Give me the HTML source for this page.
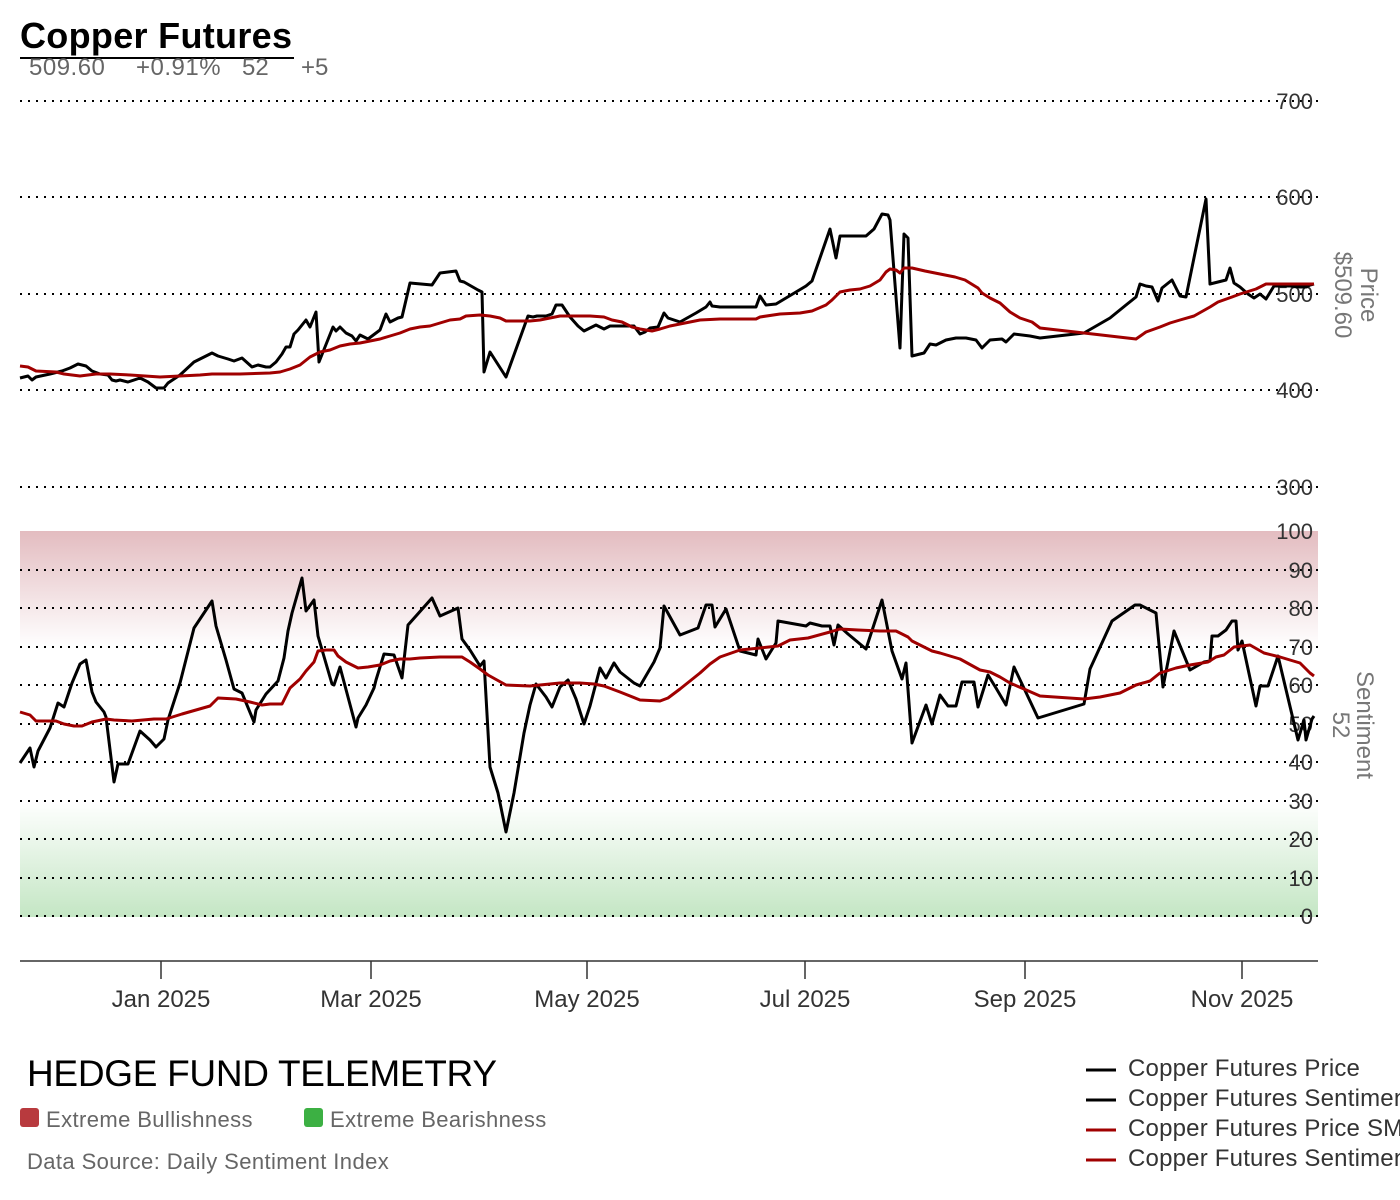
<!DOCTYPE html>
<html><head><meta charset="utf-8"><style>
html,body{margin:0;padding:0;background:#fff;width:1400px;height:1200px;overflow:hidden}
svg{display:block;font-family:"Liberation Sans",sans-serif}
</style></head><body>
<svg width="1400" height="1200" viewBox="0 0 1400 1200">
<defs>
<linearGradient id="rg" x1="0" y1="0" x2="0" y2="1"><stop offset="0" stop-color="#e3bcc0"/><stop offset="1" stop-color="#ffffff"/></linearGradient>
<linearGradient id="gg" x1="0" y1="0" x2="0" y2="1"><stop offset="0" stop-color="#ffffff"/><stop offset="1" stop-color="#c4e6c4"/></linearGradient>
</defs>
<text x="20" y="48" font-size="36" font-weight="bold" fill="#000" textLength="272">Copper Futures</text>
<line x1="20" y1="58" x2="294" y2="58" stroke="#000" stroke-width="2"/>
<text x="29" y="75" font-size="24" fill="#666" letter-spacing="0.5">509.60</text>
<text x="136" y="75" font-size="24" fill="#666" letter-spacing="0.5">+0.91%</text>
<text x="242" y="75" font-size="24" fill="#666">52</text>
<text x="301" y="75" font-size="24" fill="#666">+5</text>

<rect x="20" y="531" width="1298" height="116" fill="url(#rg)"/>
<rect x="20" y="801" width="1298" height="116" fill="url(#gg)"/>

<g stroke="#000" stroke-width="2" stroke-dasharray="2,6">
<line x1="20" y1="101" x2="1318" y2="101"/><line x1="20" y1="197" x2="1318" y2="197"/><line x1="20" y1="294" x2="1318" y2="294"/><line x1="20" y1="390" x2="1318" y2="390"/><line x1="20" y1="487" x2="1318" y2="487"/>
<line x1="20" y1="570" x2="1318" y2="570"/><line x1="20" y1="608" x2="1318" y2="608"/><line x1="20" y1="647" x2="1318" y2="647"/><line x1="20" y1="685" x2="1318" y2="685"/><line x1="20" y1="724" x2="1318" y2="724"/><line x1="20" y1="762" x2="1318" y2="762"/><line x1="20" y1="801" x2="1318" y2="801"/><line x1="20" y1="839" x2="1318" y2="839"/><line x1="20" y1="878" x2="1318" y2="878"/><line x1="20" y1="916" x2="1318" y2="916"/>
</g>
<g font-size="22" fill="#333" text-anchor="end">
<text x="1313" y="109">700</text><text x="1313" y="205">600</text><text x="1313" y="302">500</text><text x="1313" y="398">400</text><text x="1313" y="495">300</text>
<text x="1313" y="539">100</text><text x="1313" y="578">90</text><text x="1313" y="616">80</text><text x="1313" y="655">70</text><text x="1313" y="693">60</text><text x="1313" y="732">50</text><text x="1313" y="770">40</text><text x="1313" y="809">30</text><text x="1313" y="847">20</text><text x="1313" y="886">10</text><text x="1313" y="924">0</text>
</g>
<g font-size="24" fill="#777" text-anchor="middle">
<text transform="translate(1361,295) rotate(90)">Price</text>
<text transform="translate(1335,295) rotate(90)">$509.60</text>
<text transform="translate(1357,725) rotate(90)">Sentiment</text>
<text transform="translate(1333,725) rotate(90)">52</text>
</g>

<g fill="none" stroke-width="3" stroke-linejoin="round">
<polyline stroke="#000" points="20,378 28,376 32,380 36,377 50,374 62,371 70,368 78,364 86,366 92,371 100,374 108,375 112,380 116,381 120,380 128,382 140,378 148,382 156,388 164,388 168,383 180,375 194,362 212,353 218,356 228,359 234,361 242,358 252,367 258,365 266,367 270,367 276,362 282,354 286,347 290,347 294,334 298,330 306,320 310,327 316,312 319,362 333,327 336,331 340,327 346,333 352,336 356,341 360,335 368,339 376,333 380,330 386,314 390,322 398,318 402,317 410,283 432,285 440,273 456,271 460,281 464,282 478,290 482,292 484,372 490,352 506,377 528,316 533,317 537,316 546,316 552,314 556,305 562,305 570,317 578,326 584,331 596,325 604,329 610,326 620,326 634,326 640,334 645,332 650,328 658,327 664,313 668,318 680,322 696,313 706,307 710,302 712,306 720,307 740,307 756,307 760,296 766,305 776,304 786,298 796,292 806,286 812,281 830,229 836,258 840,236 850,236 866,236 874,229 882,214 888,215 890,220 900,348 904,234 908,238 912,356 924,353 930,344 936,345 946,340 956,338 966,338 976,340 982,348 990,340 1002,339 1006,342 1014,334 1030,336 1040,338 1084,333 1110,318 1126,305 1136,297 1140,284 1146,286 1152,287 1158,301 1162,288 1172,280 1180,296 1186,297 1206,199 1210,284 1226,280 1230,268 1234,283 1240,287 1248,294 1254,298 1260,294 1266,299 1274,286 1290,286 1300,287 1306,287 1310,285 1314,284"/>
<polyline stroke="#a00000" points="20,366 28,367 36,371 56,372 64,374 80,376 96,374 110,374 130,375 160,377 180,376 200,375 212,374 240,374 270,373 280,372 290,369 300,365 310,357 320,352 330,350 340,346 350,344 360,343 370,341 380,339 390,336 400,333 410,329 420,327 430,326 440,323 450,320 460,319 466,316 480,315 490,316 500,318 506,321 530,321 540,320 560,316 590,316 604,317 612,320 622,322 632,327 640,329 652,331 660,329 670,326 690,322 700,320 720,319 756,319 760,317 780,314 800,313 812,311 826,305 832,300 840,292 850,290 860,289 870,286 880,280 886,272 890,269 896,270 900,273 904,268 912,268 925,271 940,274 955,277 965,280 978,288 982,293 990,298 1000,303 1010,312 1020,318 1032,322 1040,328 1084,333 1136,339 1146,332 1160,327 1170,323 1180,320 1194,316 1210,307 1218,302 1232,297 1240,294 1256,289 1266,284 1290,284 1314,284"/>
<polyline stroke="#000" points="20,763 30,748 34,767 38,751 50,728 58,703 64,707 72,683 80,664 86,660 92,692 96,702 104,712 106,717 114,782 118,764 128,764 140,731 150,740 156,747 164,739 168,720 180,683 194,628 212,601 216,626 226,660 234,689 242,693 254,722 256,710 266,694 278,681 284,658 288,631 292,613 302,578 306,611 314,600 318,636 332,684 334,685 340,667 356,727 358,718 366,705 374,688 376,680 384,654 394,655 402,678 408,625 432,598 440,616 458,608 462,639 470,650 480,666 484,661 490,767 498,793 506,832 514,793 524,733 530,705 536,684 546,697 552,707 560,687 568,680 576,699 584,724 590,706 600,668 606,678 614,663 620,672 634,683 640,686 654,662 660,648 664,606 680,635 698,628 706,605 712,605 715,627 726,609 740,651 756,655 758,639 766,659 776,643 778,621 806,626 810,623 822,626 830,626 834,645 838,625 848,634 866,649 882,600 892,651 902,679 906,663 912,743 926,705 932,724 940,695 948,706 956,706 962,682 974,682 978,707 988,675 996,688 1006,705 1014,667 1038,718 1084,704 1090,669 1112,621 1135,605 1140,605 1156,613 1163,687 1174,631 1190,670 1204,662 1210,661 1212,636 1218,636 1226,630 1232,621 1236,621 1238,650 1242,641 1256,706 1260,686 1268,686 1278,656 1298,740 1304,720 1306,740 1312,719 1314,716"/>
<polyline stroke="#a00000" points="20,712 30,715 36,721 56,721 64,724 74,726 82,726 92,722 106,719 114,720 132,721 154,719 166,719 182,714 196,710 210,706 218,698 236,699 250,702 262,705 270,704 282,704 290,688 300,679 306,671 314,662 318,651 326,650 334,650 338,656 346,662 358,668 368,667 380,665 390,661 400,659 410,659 420,658 440,657 462,657 470,662 480,669 488,675 506,685 530,686 540,685 560,683 580,683 594,684 604,686 620,692 640,700 660,701 668,698 680,689 700,673 710,664 720,657 740,650 760,648 778,646 790,640 808,638 830,632 840,629 858,630 880,631 896,631 908,637 912,641 932,651 940,653 960,659 980,670 990,672 1000,677 1010,683 1024,689 1040,696 1084,699 1100,697 1120,693 1136,685 1150,681 1160,673 1176,668 1190,665 1208,662 1216,657 1224,655 1234,647 1250,645 1264,653 1280,657 1290,660 1300,663 1310,673 1314,676"/>
</g>

<line x1="20" y1="961" x2="1318" y2="961" stroke="#333" stroke-width="1.5"/>
<g stroke="#333" stroke-width="1.5">
<line x1="161" y1="961" x2="161" y2="979"/><line x1="371" y1="961" x2="371" y2="979"/><line x1="587" y1="961" x2="587" y2="979"/><line x1="805" y1="961" x2="805" y2="979"/><line x1="1025" y1="961" x2="1025" y2="979"/><line x1="1242" y1="961" x2="1242" y2="979"/>
</g>
<g font-size="24" fill="#333" text-anchor="middle">
<text x="161" y="1007">Jan 2025</text><text x="371" y="1007">Mar 2025</text><text x="587" y="1007">May 2025</text><text x="805" y="1007">Jul 2025</text><text x="1025" y="1007">Sep 2025</text><text x="1242" y="1007">Nov 2025</text>
</g>

<text x="27" y="1086" font-size="37" fill="#000" textLength="470">HEDGE FUND TELEMETRY</text>
<rect x="20" y="1108" width="19" height="19" rx="3" fill="#b83a3e"/>
<text x="46" y="1127" font-size="22" fill="#666" letter-spacing="0.4">Extreme Bullishness</text>
<rect x="304" y="1108" width="19" height="19" rx="3" fill="#3cb043"/>
<text x="330" y="1127" font-size="22" fill="#666" letter-spacing="0.4">Extreme Bearishness</text>
<text x="27" y="1169" font-size="22" fill="#666" letter-spacing="0.4">Data Source: Daily Sentiment Index</text>

<g stroke-width="3">
<line x1="1086" y1="1070" x2="1116" y2="1070" stroke="#000"/>
<line x1="1086" y1="1100" x2="1116" y2="1100" stroke="#000"/>
<line x1="1086" y1="1130" x2="1116" y2="1130" stroke="#a00000"/>
<line x1="1086" y1="1160" x2="1116" y2="1160" stroke="#a00000"/>
</g>
<g font-size="24" fill="#333">
<text x="1128" y="1076" letter-spacing="0.2">Copper Futures Price</text>
<text x="1128" y="1106" letter-spacing="0.2">Copper Futures Sentiment</text>
<text x="1128" y="1136" letter-spacing="0.2">Copper Futures Price SMA</text>
<text x="1128" y="1166" letter-spacing="0.2">Copper Futures Sentiment SMA</text>
</g>
</svg>
</body></html>
